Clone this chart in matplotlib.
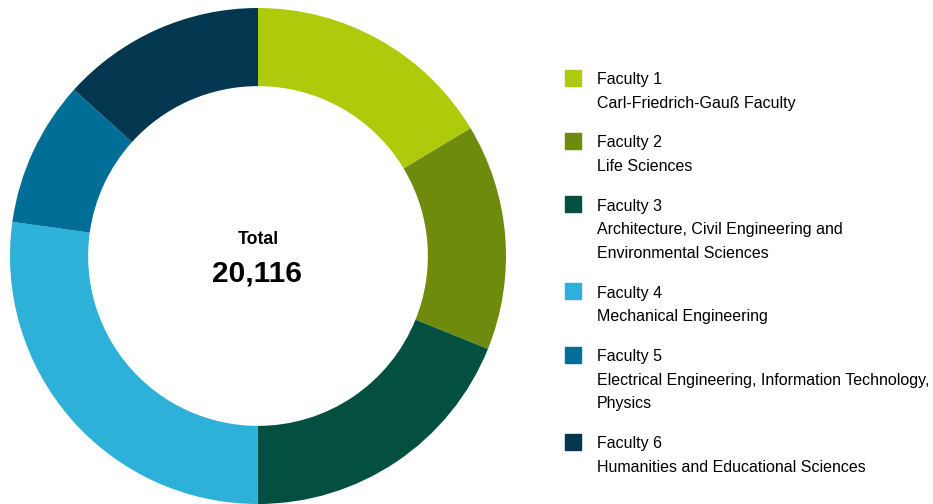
import matplotlib.pyplot as plt
from matplotlib.patches import Rectangle

plt.rcParams['font.family'] = ['Liberation Sans', 'DejaVu Sans']

faculties = ['Faculty 1', 'Faculty 2', 'Faculty 3', 'Faculty 4', 'Faculty 5', 'Faculty 6']
names = [
    'Carl-Friedrich-Gauß Faculty',
    'Life Sciences',
    'Architecture, Civil Engineering and\nEnvironmental Sciences',
    'Mechanical Engineering',
    'Electrical Engineering, Information Technology,\nPhysics',
    'Humanities and Educational Sciences',
]
students = [3297, 2962, 3800, 5470, 1911, 2676]
colors = ['#afca0b', '#6e8b0e', '#034f40', '#2db1d9', '#006e96', '#02374f']

W, H = 933, 504
fig = plt.figure(figsize=(W / 100, H / 100), dpi=100)


def fx(px):
    return px / W


def fy(py):
    return 1 - py / H


# donut
ax = fig.add_axes([10 / W, 0, 496 / W, 496 / H])
ax.pie(students, colors=colors, startangle=90, counterclock=False,
       radius=1, wedgeprops=dict(width=0.315, linewidth=0))
ax.set_xlim(-1, 1)
ax.set_ylim(-1, 1)
ax.set_aspect('equal')
ax.axis('off')

total = sum(students)
fig.text(fx(258), fy(240), 'Total', ha='center', va='center',
         fontsize=12.7, fontweight='bold')
fig.text(fx(257), fy(273), f'{total:,}', ha='center', va='center',
         fontsize=21.5, fontweight='bold')

# legend
y = 79.5
for fac, name, c in zip(faculties, names, colors):
    fig.patches.append(Rectangle((fx(565), fy(y + 6)), 16 / W, 16 / H,
                                 transform=fig.transFigure, color=c))
    fig.text(fx(597), fy(y), fac, va='center', fontsize=11.5)
    lines = name.split('\n')
    for i, line in enumerate(lines):
        fig.text(fx(597), fy(y + 23.6 * (i + 1)), line, va='center', fontsize=11.5)
    y += 23.6 * len(lines) + 39.8

fig.savefig('out.png', dpi=100)
